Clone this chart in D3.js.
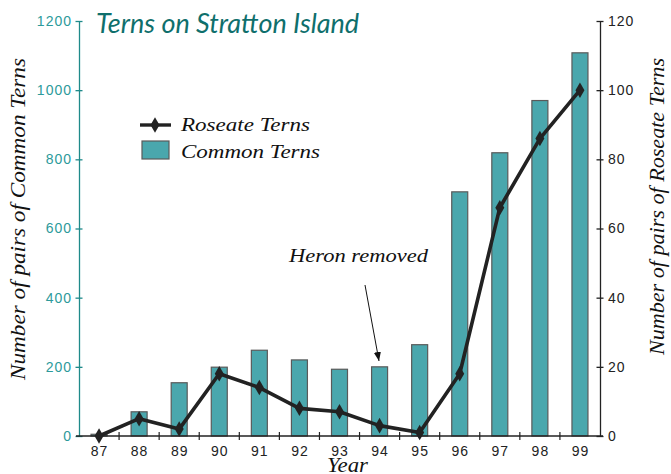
<!DOCTYPE html>
<html><head><meta charset="utf-8">
<script src="https://cdn.jsdelivr.net/npm/d3@7"></script>
<style>
html,body{margin:0;padding:0;background:#fff;}
svg{display:block;}
</style></head>
<body>
<script>
const years = ["87","88","89","90","91","92","93","94","95","96","97","98","99"];
const commonTerns = [5,70,154,199,248,220,193,200,264,706,819,970,1108];
const roseateTerns = [0,5,2,18,14,8,7,3,1,18,66,86,100];
const leftTicks = [0,200,400,600,800,1000,1200];
const rightTicks = [0,20,40,60,80,100,120];

const W = 671, H = 474;
const svg = d3.select("body").append("svg").attr("width",W).attr("height",H);

const x = d3.scaleBand().domain(years).range([79,600]).paddingInner(0).paddingOuter(0);
const yL = d3.scaleLinear().domain([0,1200]).range([436,21]);
const yR = d3.scaleLinear().domain([0,120]).range([436,21]);

const teal = "#4aa7ad", tealText = "#2c9a9b", titleCol = "#0f6f6c";
const serif = "'Liberation Serif','DejaVu Serif',serif";
const sans = "'Liberation Sans',Arial,sans-serif";

function serifText(sel, size, len){
  return sel.attr("fill","#111").style("font-family",serif).style("font-style","italic")
    .style("font-size",size+"px").attr("textLength",len).attr("lengthAdjust","spacingAndGlyphs");
}

// bars
const bw = 16;
svg.append("g").selectAll("rect").data(years).join("rect")
  .attr("x", d => x(d) + x.bandwidth()/2 - bw/2)
  .attr("width", bw)
  .attr("y", (d,i) => yL(commonTerns[i]))
  .attr("height", (d,i) => yL(0) - yL(commonTerns[i]))
  .attr("fill", teal).attr("stroke","#5a5a5a").attr("stroke-width",1.2);

// left axis
const gL = svg.append("g").attr("transform","translate(79,0)")
  .call(d3.axisLeft(yL).tickValues(leftTicks).tickFormat(d3.format("d")).tickSize(0).tickPadding(7));
gL.select(".domain").attr("stroke", "#1f8a8a").attr("stroke-width",1.3);
gL.selectAll(".tick text").attr("fill", tealText).style("font-family",sans).style("font-size","14px").style("letter-spacing","1px");
gL.selectAll(".tick").append("line").attr("x1",-3.5).attr("x2",3.5).attr("stroke","#1f8a8a").attr("stroke-width",1.3);

// right axis
const gR = svg.append("g").attr("transform","translate(600,0)")
  .call(d3.axisRight(yR).tickValues(rightTicks).tickFormat(d3.format("d")).tickSize(0).tickPadding(8));
gR.select(".domain").attr("stroke","#222").attr("stroke-width",1.3);
gR.selectAll(".tick text").attr("fill","#222").style("font-family",sans).style("font-size","14px").style("letter-spacing","1px");
gR.selectAll(".tick").append("line").attr("x1",-3.5).attr("x2",3.5).attr("stroke","#222").attr("stroke-width",1.3);

// x axis
const boundaries = years.map(d => x(d)).concat([600]);
svg.append("line").attr("x1",76).attr("x2",603).attr("y1",436).attr("y2",436).attr("stroke","#222").attr("stroke-width",1.3);
svg.append("g").selectAll("line").data(boundaries.slice(1,-1)).join("line")
  .attr("x1",d=>d).attr("x2",d=>d).attr("y1",432).attr("y2",440).attr("stroke","#222").attr("stroke-width",1.2);
svg.append("g").selectAll("text").data(years).join("text")
  .attr("x", d => x(d) + x.bandwidth()/2 + 0.5).attr("y",456)
  .attr("text-anchor","middle").attr("fill","#222")
  .style("font-family",sans).style("font-size","14px").style("letter-spacing","1px")
  .text(d=>d);

// line
const line = d3.line().x((d,i)=> x(years[i]) + x.bandwidth()/2).y(d => yR(d));
svg.append("path").datum(roseateTerns).attr("d", line)
  .attr("fill","none").attr("stroke","#222").attr("stroke-width",3.6).attr("stroke-linejoin","round");
const diamond = d3.symbol().type(d3.symbolDiamond).size(70);
svg.append("g").selectAll("path").data(roseateTerns).join("path")
  .attr("transform",(d,i)=>`translate(${x(years[i]) + x.bandwidth()/2},${yR(d)})`)
  .attr("d", diamond).attr("fill","#222");

// titles
svg.append("text").attr("x",96).attr("y",33).text("Terns on Stratton Island")
  .attr("fill",titleCol).style("font-family","Lato,'Open Sans',sans-serif").style("font-style","italic").style("font-size","27px");

serifText(svg.append("text").attr("transform","translate(25,58) rotate(-90)").attr("x",-322).attr("y",0)
  .text("Number of pairs of Common Terns"), 20, 322);
serifText(svg.append("text").attr("transform","translate(664,58) rotate(-90)").attr("x",-297).attr("y",0)
  .text("Number of pairs of Roseate Terns"), 20, 297);
serifText(svg.append("text").attr("x",327).attr("y",472).text("Year"), 20, 41);

// legend
svg.append("line").attr("x1",140).attr("x2",171).attr("y1",125).attr("y2",125).attr("stroke","#222").attr("stroke-width",3.4);
svg.append("path").attr("transform","translate(155,125)").attr("d",diamond).attr("fill","#222");
serifText(svg.append("text").attr("x",181).attr("y",131).text("Roseate Terns"), 19, 129);
svg.append("rect").attr("x",142).attr("y",141).attr("width",27).attr("height",18).attr("fill",teal).attr("stroke","#5a5a5a").attr("stroke-width",1.2);
serifText(svg.append("text").attr("x",181).attr("y",158).text("Common Terns"), 19, 139);

// annotation
serifText(svg.append("text").attr("x",289).attr("y",262).text("Heron removed"), 19, 139);
const defs = svg.append("defs");
defs.append("marker").attr("id","ah").attr("viewBox","0 0 10 10").attr("refX",10).attr("refY",5)
  .attr("markerWidth",9).attr("markerHeight",9).attr("markerUnits","userSpaceOnUse").attr("orient","auto")
  .append("path").attr("d","M0,1 L10,5 L0,9 Z").attr("fill","#111");
svg.append("line").attr("x1",365).attr("y1",285).attr("x2",379).attr("y2",361)
  .attr("stroke","#111").attr("stroke-width",1).attr("marker-end","url(#ah)");
</script>
</body></html>
